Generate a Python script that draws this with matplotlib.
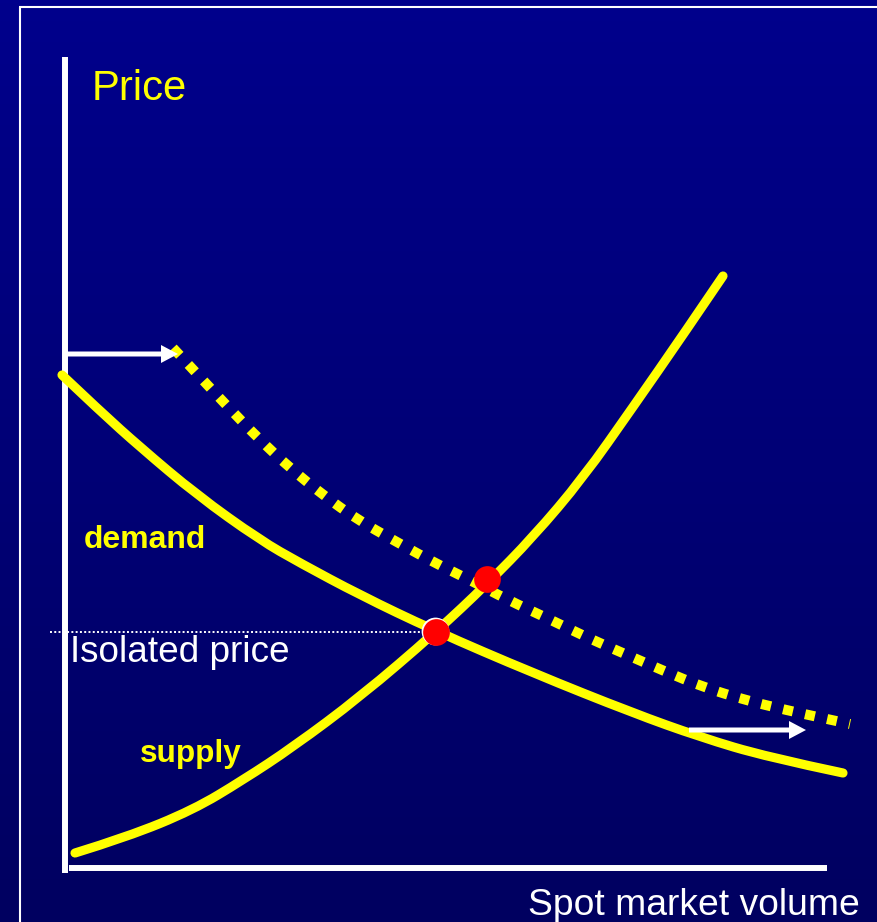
import numpy as np
import matplotlib
matplotlib.use("Agg")
import matplotlib.pyplot as plt
from matplotlib.path import Path
from matplotlib.patches import PathPatch

# ---- data (volume, price) in chart units ----
demand_vol   = [-2, 36, 76, 133, 196, 236, 296, 369, 469, 569, 636, 703, 779]
demand_price = [493, 457, 421, 373, 328, 305, 273, 238, 195, 155, 131, 111, 95]

supply_vol   = [11, 63, 129, 179, 229, 296, 372, 423, 469, 519, 569, 619, 659]
supply_price = [15, 31, 58, 88, 121, 171, 236, 284, 331, 390, 461, 533, 592]

shifted_vol   = [109, 136, 165, 195, 226, 259, 294, 331, 369, 406, 444, 483,
                 522, 561, 600, 639, 681, 722, 763, 786]
shifted_price = [520, 491, 460, 429, 400, 373, 348, 327, 306, 288, 268, 250,
                 231, 214, 197, 181, 168, 158, 149, 144]

equilibria_vol   = [372, 423]
equilibria_price = [236, 289]
isolated_price = 236

labels = {"price": "Price", "volume": "Spot market volume",
          "isolated": "Isolated price", "demand": "demand", "supply": "supply"}

YELLOW = "#FFFF00"
plt.rcParams['font.family'] = ['Liberation Sans', 'DejaVu Sans']


def smooth_path(xs, ys):
    """Quadratic B-spline style path using the read points as control points."""
    pts = list(zip(xs, ys))
    verts = [pts[0]]
    codes = [Path.MOVETO]
    for i in range(1, len(pts) - 1):
        mid = ((pts[i][0] + pts[i + 1][0]) / 2, (pts[i][1] + pts[i + 1][1]) / 2)
        if i == len(pts) - 2:
            mid = pts[-1]
        verts += [pts[i], mid]
        codes += [Path.CURVE3, Path.CURVE3]
    return Path(verts, codes)


fig = plt.figure(figsize=(8.77, 9.22), dpi=100)
ax = fig.add_axes([0, 0, 1, 1])
ax.set_xlim(-64, 813)
ax.set_ylim(-54, 868)
ax.axis('off')

# background gradient
top = np.array([0, 0, 140]) / 255
bot = np.array([0, 0, 96]) / 255
t = np.linspace(0, 1, 256)[:, None]
grad = (top[None, :] * (1 - t) + bot[None, :] * t)[:, None, :]
ax.imshow(grad, extent=(-64, 813, -54, 868), aspect='auto', origin='upper', zorder=0)

# frame lines
ax.plot([-44.5, -44.5], [860.5, -60], color='white', lw=1.5, zorder=1, solid_capstyle='butt')
ax.plot([-45.2, 820], [860.5, 860.5], color='white', lw=1.5, zorder=1, solid_capstyle='butt')

# axes
ax.plot([0.5, 0.5], [-5, 811], color='white', lw=4.3, solid_capstyle='butt', zorder=2)
ax.plot([5, 763], [0, 0], color='white', lw=4.3, solid_capstyle='butt', zorder=2)

# isolated price dotted line
ax.plot([-14, 356], [isolated_price, isolated_price], color='white', lw=1.4,
        linestyle=(0, (1, 1.2)), dash_capstyle='butt', zorder=3)

# curves
for xs, ys in [(demand_vol, demand_price), (supply_vol, supply_price)]:
    ax.add_patch(PathPatch(smooth_path(xs, ys), fill=False, edgecolor=YELLOW, lw=6.6,
                           capstyle='round', joinstyle='round', zorder=4))
ax.add_patch(PathPatch(smooth_path(shifted_vol, shifted_price), fill=False,
                       edgecolor=YELLOW, lw=7.2, linestyle=(0, (1.0, 1.25)),
                       capstyle='butt', zorder=4))

# arrows
ax.arrow(3, 514, 111, 0, width=5, head_width=18, head_length=17,
         length_includes_head=True, color='white', zorder=5, lw=0)
ax.arrow(625, 138, 117, 0, width=5, head_width=18, head_length=17,
         length_includes_head=True, color='white', zorder=5, lw=0)

# equilibrium points
ax.scatter([equilibria_vol[0] - 1.2], [equilibria_price[0] + 1.2], s=400, color='white', zorder=6, lw=0)
ax.scatter(equilibria_vol, equilibria_price, s=370, color='#FF0000', zorder=7, lw=0)

# texts
ax.text(28, 768, labels["price"], color=YELLOW, fontsize=30.2, va='baseline', ha='left', zorder=8)
ax.text(6, 206, labels["isolated"], color='white', fontsize=26.6, va='baseline', ha='left', zorder=8)
ax.text(796, -47, labels["volume"], color='white', fontsize=26.8, va='baseline', ha='right', zorder=8)
ax.text(20, 320, labels["demand"], color=YELLOW, fontsize=23, fontweight='bold',
        va='baseline', ha='left', zorder=8)
ax.text(76, 106, labels["supply"], color=YELLOW, fontsize=22.7, fontweight='bold',
        va='baseline', ha='left', zorder=8)

fig.savefig("out.png", dpi=100)
